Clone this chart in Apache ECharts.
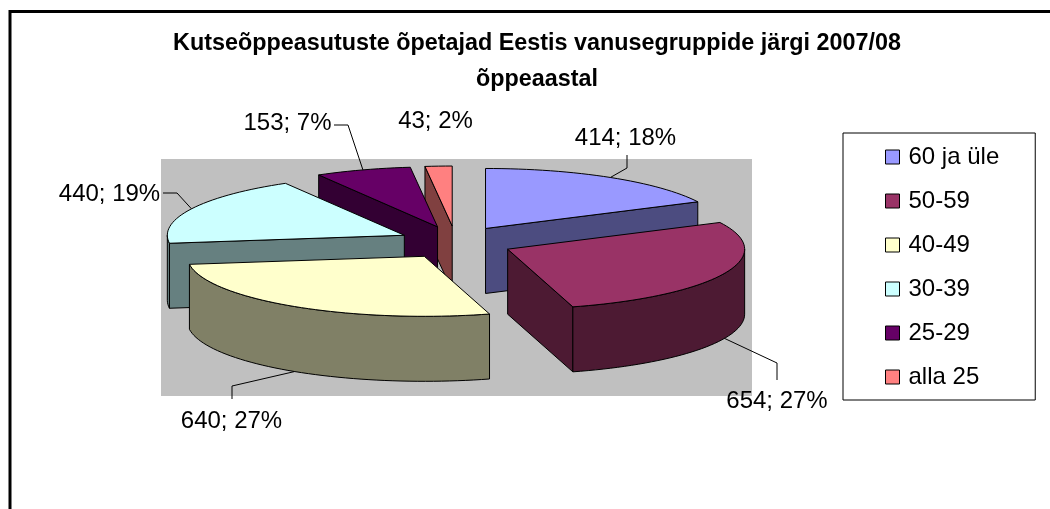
<!DOCTYPE html>
<html><head><meta charset="utf-8">
<style>html,body{margin:0;padding:0;background:#fff}#c{width:1050px;height:509px}</style>
<script src="https://cdn.jsdelivr.net/npm/echarts@6/dist/echarts.min.js"></script>
</head><body><div id="c"></div>
<script>
const categories = ['60 ja üle','50-59','40-49','30-39','25-29','alla 25'];
const values = [414,654,640,440,153,43];
const percentLabels = ['18%','27%','27%','19%','7%','2%'];
const topColors = ['#9999FF','#993366','#FFFFCC','#CCFFFF','#660066','#FF8080'];
const sideColors = ['#4C4C80','#4D1A33','#808066','#668080','#330033','#804040'];
const titleLines = 'Kutseõppeasutuste õpetajad Eestis vanusegruppide järgi 2007/08\nõppeaastal';

// projection of the exploded, tilted pie
const pie = {cx:455.5, cy:242.5, rx:237, ry:60, depth:65, explodeX:57, explodeY:16.5};
// label anchor (text centre) and elbow of its leader line
const labelPos = [[625.5,138],[777,401],[231.5,421.5],[109.5,194],[287.5,123],[435.5,121]];
const leaderElbow = [[[627,168],[627,155]],[[777,363],[777,380]],[[232,386],[232,399]],[[177,193],[163,193]],[[348,125],[334,125]],null];

const total = values.reduce((a,b)=>a+b,0);
const rad = d=>d*Math.PI/180;
let acc = 0;
const spans = values.map(v=>{const s=[acc,acc+v/total*360];acc=s[1];return s;});

function renderSlice(i, api){
  const [t0,t1] = spans[i], mid=(t0+t1)/2;
  const ax = pie.cx+pie.explodeX*Math.sin(rad(mid));
  const ay = pie.cy-pie.explodeY*Math.cos(rad(mid));
  const P=(t,h)=>[ax+pie.rx*Math.sin(rad(t)), ay-pie.ry*Math.cos(rad(t))+(h||0)];
  const arc=(a,b,h)=>{const n=Math.max(2,Math.ceil((b-a)/2)),o=[];for(let k=0;k<=n;k++)o.push(P(a+(b-a)*k/n,h));return o;};
  const st={stroke:'#000',lineWidth:1,lineJoin:'round'};
  const poly=(pts,fill)=>({type:'polygon',shape:{points:pts},style:Object.assign({fill},st),silent:true});
  const ch=[];
  const d=pie.depth;
  const face=t=>poly([[ax,ay],P(t),P(t,d),[ax,ay+d]],sideColors[i]);
  if(t0>=180) ch.push(face(t0));
  if(t1<=180) ch.push(face(t1));
  const r0=Math.max(t0,90), r1=Math.min(t1,270);
  if(r1>r0) ch.push(poly(arc(r0,r1,0).concat(arc(r0,r1,d).reverse()),sideColors[i]));
  ch.push(poly([[ax,ay]].concat(arc(t0,t1,0)),topColors[i]));
  // leader line
  const el=leaderElbow[i];
  if(el){
    const isFront=Math.cos(rad(mid))<0;
    ch.push({type:'polyline',shape:{points:[P(mid,isFront?d:0)].concat(el)},style:{stroke:'#000',lineWidth:1,fill:null},silent:true,z2:50});
  }
  ch.push({type:'text',silent:true,z2:60,style:{x:labelPos[i][0],y:labelPos[i][1],text:values[i]+'; '+percentLabels[i],
    fill:'#000',font:'24px "Liberation Sans"',align:'center',verticalAlign:'middle'}});
  return {type:'group',children:ch};
}

const order = values.map((_,i)=>i).sort((a,b)=>
  Math.cos(rad((spans[b][0]+spans[b][1])/2))-Math.cos(rad((spans[a][0]+spans[a][1])/2)));

const series = categories.map((name,i)=>({
  type:'custom', name, coordinateSystem:'none', silent:true,
  z:3+order.indexOf(i), data:[[values[i]]], clip:false,
  itemStyle:{color:topColors[i]},
  renderItem:(p,api)=>renderSlice(i,api)
}));

const chart = echarts.init(document.getElementById('c'),null,{renderer:'canvas'});
chart.setOption({
  animation:false, backgroundColor:'#fff',
  title:{text:titleLines,left:532,top:21,textAlign:'center',
    textStyle:{fontFamily:'Liberation Sans',fontWeight:'bold',fontSize:23.35,lineHeight:36,color:'#000'}},
  legend:{orient:'vertical',left:843,top:133,padding:[12,36,11,42],itemWidth:14,itemHeight:14,itemGap:20,
    backgroundColor:'#fff',borderColor:'#000',borderWidth:1,selectedMode:false,
    icon:'rect',
    data:categories.map((name,i)=>({name,itemStyle:{color:topColors[i],borderColor:'#000',borderWidth:1}})),
    textStyle:{fontFamily:'Liberation Sans',fontSize:24,color:'#000',padding:[0,0,0,4]}},
  graphic:[
    {type:'rect',z:0,shape:{x:161,y:159,width:591,height:237},style:{fill:'#C0C0C0'},silent:true},
    {type:'polyline',z:1,shape:{points:[[10,509],[10,11.5],[1050,11.5]]},style:{stroke:'#000',lineWidth:3,fill:null},silent:true}
  ],
  series
});
</script></body></html>
